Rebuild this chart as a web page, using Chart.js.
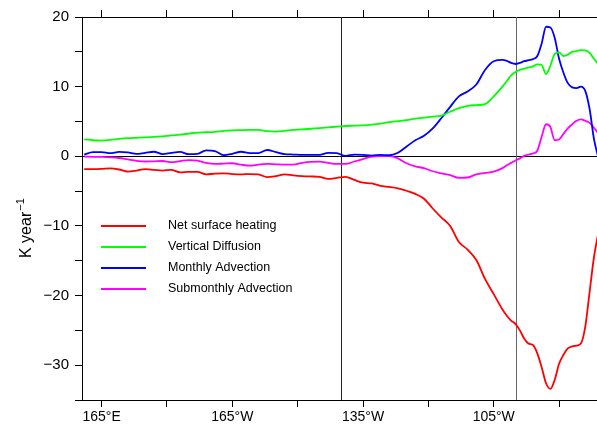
<!DOCTYPE html>
<html>
<head>
<meta charset="utf-8">
<script src="https://cdn.jsdelivr.net/npm/chart.js@4.4.1/dist/chart.umd.min.js"></script>
<style>
  html, body { margin: 0; padding: 0; background: #fff; }
  #wrap { width: 597px; height: 427px; }
</style>
</head>
<body>
<div id="wrap"><canvas id="chart" width="597" height="427"></canvas></div>
<script>
// longitude in degrees east (0-360)
const lons = [161,163,165,167,169,171,173,175,177,179,181,183,185,187,189,191,193,195,197,199,
  201,203,205,207,209,211,213,215,217,219,221,223,225,227,229,231,233,235,237,239,
  241,243,245,247,249,251,253,255,257,258,259,260,261,262,263,264,265,266,267,268,
  269,270,271,272,273,274,275,276,277,278,279];

const netSurfaceHeating = [-1.85,-1.85,-1.82,-1.75,-1.9,-2.2,-2.05,-1.85,-1.95,-2.05,-1.95,-2.3,-2.25,-2.25,-2.6,-2.5,-2.45,-2.55,-2.6,-2.55,
  -2.6,-3.0,-2.85,-2.6,-2.75,-2.85,-2.9,-2.95,-3.25,-3.1,-2.95,-3.4,-3.8,-3.9,-4.25,-4.4,-4.6,-4.95,-5.4,-6.1,
  -7.5,-8.8,-10.0,-12.3,-13.4,-14.9,-17.6,-19.8,-22.0,-22.9,-23.6,-24.1,-25.0,-26.2,-26.9,-27.1,-28.3,-30.3,-32.6,-33.4,
  -32.1,-29.8,-28.5,-27.6,-27.3,-27.2,-26.9,-24.5,-19.5,-14.5,-11.0];

const verticalDiffusion = [2.42,2.3,2.25,2.35,2.5,2.6,2.65,2.7,2.8,2.85,3.0,3.1,3.25,3.4,3.45,3.5,3.65,3.72,3.75,3.78,
  3.78,3.6,3.55,3.65,3.78,3.85,3.95,4.05,4.15,4.25,4.35,4.4,4.45,4.55,4.7,4.9,5.05,5.2,5.4,5.55,
  5.7,5.85,6.4,6.9,7.25,7.35,7.5,8.6,10.0,10.8,11.6,12.1,12.4,12.6,12.75,12.9,13.2,13.1,11.8,13.0,
  14.7,14.9,14.4,14.6,15.0,15.1,15.25,15.2,14.85,14.0,13.2];

const monthlyAdvection = [0.25,0.6,0.6,0.45,0.62,0.55,0.33,0.5,0.65,0.32,0.5,0.62,0.3,0.35,0.85,0.75,0.15,0.35,0.65,0.45,
  0.45,0.9,0.6,0.3,0.25,0.19,0.19,0.2,0.5,0.45,0.05,0.25,0.2,0.1,0.2,0.15,0.5,1.4,2.3,2.95,
  4.0,5.5,7.1,8.6,9.3,10.3,12.4,13.65,13.85,13.7,13.4,13.25,13.4,13.65,13.8,13.95,14.4,16.2,18.6,18.5,
  17.0,14.0,12.0,10.5,9.9,9.8,10.0,9.4,6.8,2.5,-0.2];

const submonthlyAdvection = [-0.05,-0.08,-0.1,-0.15,-0.25,-0.45,-0.65,-0.75,-0.72,-0.68,-0.85,-0.7,-0.55,-0.62,-0.95,-1.1,-1.05,-1.0,-1.2,-1.35,
  -1.2,-1.1,-1.15,-1.2,-1.2,-0.95,-0.8,-0.78,-0.95,-1.1,-1.1,-0.75,-0.4,-0.05,0.04,0.03,-0.3,-1.0,-1.45,-1.7,
  -2.15,-2.45,-2.7,-3.1,-3.05,-2.6,-2.4,-2.2,-1.7,-1.3,-0.95,-0.6,-0.3,0.05,0.25,0.4,0.8,2.8,4.6,4.2,
  2.3,2.4,3.2,4.0,4.6,5.1,5.3,5.1,4.8,4.1,3.3];

const seriesNames = ["Net surface heating", "Vertical Diffusion", "Monthly Advection", "Submonthly Advection"];
const seriesColors = ["#ff0000", "#00ff00", "#0000ff", "#ff00ff"];

const xTickValues = [165, 180, 195, 210, 225, 240, 255, 270];
const xTickLabels = {165: "165°E", 195: "165°W", 225: "135°W", 255: "105°W"};
const refLons = [220, 260];
const refColors = ["#222", "#666"];

const FONT = "'Liberation Sans', Arial, sans-serif";

function pts(vals) {
  return lons.map((x, i) => ({x: x, y: vals[i]}));
}

const allValues = [netSurfaceHeating, verticalDiffusion, monthlyAdvection, submonthlyAdvection];

const refLines = {
  id: "refLines",
  beforeDatasetsDraw(chart) {
    const ctx = chart.ctx, a = chart.chartArea;
    const xs = chart.scales.x, ys = chart.scales.y;
    ctx.save();
    ctx.lineWidth = 1;
    // zero line
    const y0 = Math.round(ys.getPixelForValue(0)) + 0.5;
    ctx.strokeStyle = "#000";
    ctx.beginPath(); ctx.moveTo(a.left, y0); ctx.lineTo(a.right, y0); ctx.stroke();
    refLons.forEach((lon, i) => {
      const x = Math.round(xs.getPixelForValue(lon)) + 0.5;
      ctx.strokeStyle = refColors[i];
      ctx.beginPath(); ctx.moveTo(x, a.top); ctx.lineTo(x, a.bottom); ctx.stroke();
    });
    ctx.restore();
  }
};

const extras = {
  id: "extras",
  afterDraw(chart) {
    const ctx = chart.ctx;
    ctx.save();
    // legend inside plot
    ctx.font = "12.5px " + FONT;
    ctx.textBaseline = "middle";
    ctx.fillStyle = "#000";
    chart.data.datasets.forEach((ds, i) => {
      const y = 226 + i * 21;
      ctx.strokeStyle = ds.borderColor;
      ctx.lineWidth = 2;
      ctx.beginPath(); ctx.moveTo(101, y); ctx.lineTo(146, y); ctx.stroke();
      ctx.fillText(ds.label, 168, y);
    });
    // y axis title with superscript
    ctx.translate(31, 258);
    ctx.rotate(-Math.PI / 2);
    ctx.textBaseline = "alphabetic";
    ctx.font = "16px " + FONT;
    ctx.fillText("K year", 0, 0);
    const w = ctx.measureText("K year").width;
    ctx.font = "11px " + FONT;
    ctx.fillText("\u22121", w + 1, -7);
    ctx.restore();
  }
};

const axisGrid = {drawOnChartArea: false, drawTicks: true, tickLength: 7, color: "#000", lineWidth: 1};

new Chart(document.getElementById("chart"), {
  type: "line",
  data: {
    datasets: allValues.map((vals, i) => ({
      label: seriesNames[i],
      data: pts(vals),
      borderColor: seriesColors[i],
      backgroundColor: seriesColors[i],
      borderWidth: 1.8,
      pointRadius: 0,
      cubicInterpolationMode: "monotone",
      fill: false
    }))
  },
  options: {
    responsive: false,
    animation: false,
    devicePixelRatio: 1,
    layout: {padding: 0},
    plugins: {legend: {display: false}, tooltip: {enabled: false}},
    scales: {
      x: {
        type: "linear", position: "bottom", min: 160.5, max: 278.7,
        afterBuildTicks: s => { s.ticks = xTickValues.map(v => ({value: v})); },
        afterFit: s => { s.height = 27; },
        grid: axisGrid,
        border: {display: true, color: "#000", width: 1},
        ticks: {
          autoSkip: false, maxRotation: 0, padding: 2, color: "#000",
          font: {family: FONT, size: 14},
          callback: v => xTickLabels[v] || ""
        }
      },
      x2: {
        type: "linear", position: "top", min: 160.5, max: 278.7,
        afterBuildTicks: s => { s.ticks = xTickValues.map(v => ({value: v})); },
        afterFit: s => { s.height = 17; },
        grid: axisGrid,
        border: {display: true, color: "#000", width: 1},
        ticks: {autoSkip: false, maxRotation: 0, callback: () => ""}
      },
      y: {
        min: -35, max: 20,
        afterFit: s => { s.width = 82; },
        grid: axisGrid,
        border: {display: true, color: "#000", width: 1},
        ticks: {
          stepSize: 5, padding: 6, color: "#000",
          font: {family: FONT, size: 15},
          callback: v => (v % 10 === 0 ? String(v).replace("-", "\u2212") : "")
        }
      }
    }
  },
  plugins: [refLines, extras]
});
</script>
</body>
</html>
